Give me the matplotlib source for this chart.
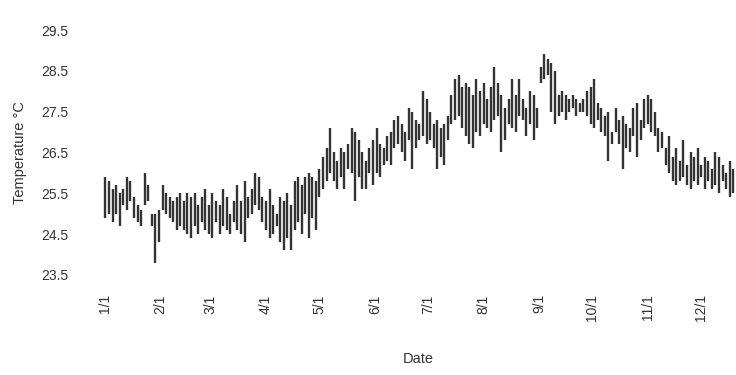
import numpy as np
import matplotlib
matplotlib.use('Agg')
import matplotlib.pyplot as plt

plt.rcParams['font.family'] = ['Liberation Sans', 'DejaVu Sans']

# day of year for each bar (every 2nd day)
days = np.arange(0, 354, 2)

# daily high / low temperature (deg C), month by month
hi_jan = [25.9, 25.8, 25.6, 25.7, 25.5, 25.6, 25.9, 25.8, 25.4, 25.2, 25.1, 26.0, 25.7, 25.0, 25.0, 25.1]
lo_jan = [24.9, 25.0, 24.8, 25.0, 24.7, 25.2, 25.1, 25.3, 24.9, 24.8, 24.7, 25.2, 25.3, 24.7, 23.8, 24.3]
hi_feb = [25.7, 25.5, 25.4, 25.3, 25.4, 25.5, 25.3, 25.5, 25.4, 25.5, 25.2, 25.4, 25.6, 25.2]
lo_feb = [25.1, 25.0, 24.9, 24.8, 24.6, 24.7, 24.6, 24.5, 24.4, 24.7, 24.5, 24.8, 24.6, 24.5]
hi_mar = [25.5, 25.3, 25.2, 25.6, 25.4, 25.0, 25.3, 25.7, 25.3, 25.8, 25.4, 25.6, 26.0, 25.9, 25.4]
lo_mar = [24.4, 24.8, 24.5, 24.7, 24.6, 24.5, 24.8, 24.6, 24.5, 24.3, 24.9, 25.0, 25.2, 25.1, 24.8]
hi_apr = [25.3, 25.6, 25.2, 25.0, 25.4, 25.3, 25.5, 25.2, 25.8, 25.9, 25.7, 25.9, 26.0, 25.9, 25.8]
lo_apr = [24.6, 24.4, 24.5, 24.7, 24.3, 24.1, 24.4, 24.1, 24.6, 24.8, 24.5, 25.0, 24.4, 24.9, 24.6]
hi_may = [26.1, 26.4, 26.6, 27.1, 26.5, 26.3, 26.6, 26.5, 26.7, 27.1, 27.0, 26.8, 26.5, 26.3, 26.6, 26.8]
lo_may = [25.4, 25.6, 25.8, 26.0, 25.8, 25.6, 25.9, 25.6, 26.1, 26.0, 25.3, 25.9, 25.6, 25.6, 26.0, 25.7]
hi_jun = [27.1, 26.7, 26.6, 26.9, 27.0, 27.3, 27.4, 27.2, 27.0, 27.6, 27.5, 27.3, 27.2, 28.0, 27.8]
lo_jun = [26.0, 25.9, 26.2, 26.3, 26.2, 26.6, 26.7, 26.5, 26.3, 26.8, 26.1, 26.6, 26.8, 26.9, 26.7]
hi_jul = [27.5, 27.2, 27.3, 27.1, 27.2, 27.4, 27.9, 28.3, 28.4, 28.1, 28.2, 28.1, 27.9, 28.3, 28.0]
lo_jul = [26.8, 26.6, 26.1, 26.4, 26.2, 26.8, 27.2, 27.3, 27.4, 27.1, 26.9, 26.7, 26.6, 27.0, 26.9]
hi_aug = [28.2, 27.8, 28.1, 28.6, 28.2, 27.9, 27.6, 27.8, 28.3, 27.9, 28.3, 27.8, 27.6, 28.0, 27.9, 27.6]
lo_aug = [27.2, 27.1, 27.0, 27.3, 27.4, 26.5, 26.8, 27.2, 27.1, 27.0, 27.4, 27.3, 26.9, 27.2, 26.8, 27.1]
hi_sep = [28.6, 28.9, 28.8, 28.7, 28.5, 27.9, 28.0, 27.9, 27.8, 27.9, 27.8, 27.7, 27.8, 28.0, 28.1]
lo_sep = [28.2, 28.3, 28.4, 27.5, 27.2, 27.4, 27.5, 27.3, 27.5, 27.6, 27.4, 27.5, 27.5, 27.4, 27.2]
hi_oct = [28.3, 27.7, 27.6, 27.4, 27.5, 27.0, 27.6, 27.3, 27.4, 27.2, 27.1, 27.6, 27.7, 27.3, 27.8]
lo_oct = [27.1, 27.3, 27.0, 26.9, 26.3, 26.7, 27.0, 26.7, 26.1, 26.6, 26.5, 26.9, 26.4, 26.8, 27.1]
hi_nov = [27.9, 27.8, 27.5, 27.1, 27.0, 26.6, 26.9, 26.4, 26.6, 26.3, 26.8, 26.2, 26.5, 26.4, 26.6]
lo_nov = [27.2, 27.0, 26.9, 26.5, 26.6, 26.2, 26.0, 25.8, 25.7, 25.8, 25.9, 25.7, 25.6, 25.8, 25.7]
hi_dec = [26.2, 26.4, 26.3, 26.1, 26.5, 26.4, 26.2, 26.0, 26.3, 26.1]
lo_dec = [25.9, 25.6, 25.8, 25.6, 25.7, 25.5, 25.8, 25.6, 25.4, 25.5]

highs = hi_jan + hi_feb + hi_mar + hi_apr + hi_may + hi_jun + hi_jul + hi_aug + hi_sep + hi_oct + hi_nov + hi_dec
lows = lo_jan + lo_feb + lo_mar + lo_apr + lo_may + lo_jun + lo_jul + lo_aug + lo_sep + lo_oct + lo_nov + lo_dec

month_days = [0, 31, 59, 90, 120, 151, 181, 212, 243, 273, 304, 334]
month_labels = ['1/1', '2/1', '3/1', '4/1', '5/1', '6/1', '7/1', '8/1', '9/1', '10/1', '11/1', '12/1']
y_ticks = [23.5, 24.5, 25.5, 26.5, 27.5, 28.5, 29.5]

fig = plt.figure(figsize=(7.36, 3.75), dpi=100)
ax = fig.add_axes([0.136, 0.267, 0.864, 0.653])

ax.vlines(days, lows, highs, color='#333333', linewidth=1.7)

ax.set_xlim(-3, 353.5)
ax.set_ylim(23.5, 29.5)
ax.set_yticks(y_ticks)
ax.set_yticklabels(['%.1f' % v for v in y_ticks])
ax.set_xticks(month_days)
ax.set_xticklabels(month_labels, rotation=90)

for s in ax.spines.values():
    s.set_visible(False)
ax.tick_params(length=0, labelsize=10, labelcolor='#333333')
ax.tick_params(axis='y', pad=23)
ax.tick_params(axis='x', pad=14)

ax.set_xlabel('Date', fontsize=10.5, color='#333333', labelpad=22)
ax.set_ylabel('Temperature \u00b0C', fontsize=10.5, color='#333333', labelpad=10)

fig.savefig('out.png', dpi=100)
